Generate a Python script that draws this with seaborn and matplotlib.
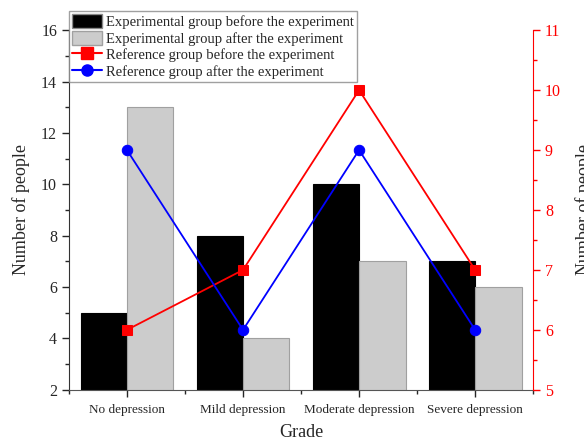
import numpy as np
import pandas as pd
import matplotlib
matplotlib.use("Agg")
import matplotlib.pyplot as plt
from matplotlib.lines import Line2D
from matplotlib.patches import Patch
from matplotlib.ticker import MultipleLocator, FixedLocator
import seaborn as sns

grades = ["No depression", "Mild depression", "Moderate depression", "Severe depression"]
exp_before = [5, 8, 10, 7]
exp_after = [13, 4, 7, 6]
ref_before = [6, 7, 10, 7]
ref_after = [9, 6, 9, 6]

lab_eb = "Experimental group before the experiment"
lab_ea = "Experimental group after the experiment"
lab_rb = "Reference group before the experiment"
lab_ra = "Reference group after the experiment"

sns.set_style("white")
plt.rcParams["font.family"] = ["Liberation Serif", "DejaVu Serif"]

df = pd.DataFrame({
    "Grade": grades * 2,
    "count": exp_before + exp_after,
    "group": [lab_eb] * 4 + [lab_ea] * 4,
})

fig = plt.figure(figsize=(5.84, 4.43), dpi=100)
ax = fig.add_axes([0.118, 0.12, 0.795, 0.812])

sns.barplot(data=df, x="Grade", y="count", hue="group", order=grades,
            hue_order=[lab_eb, lab_ea], palette=["black", "#cccccc"],
            width=0.8, ax=ax, legend=False)
for i, p in enumerate(ax.patches):
    p.set_edgecolor("black" if i < 4 else "#a0a0a0")
    p.set_linewidth(0.8)

ax.set_xlim(-0.5, 3.5)
ax.set_ylim(2, 16)
ax.yaxis.set_major_locator(MultipleLocator(2))
ax.yaxis.set_minor_locator(MultipleLocator(1))
ax.xaxis.set_minor_locator(FixedLocator([-0.5, 0.5, 1.5, 2.5, 3.5]))
ax.tick_params(axis="y", which="major", direction="out", length=5, width=1, labelsize=11.5, left=True)
ax.tick_params(axis="y", which="minor", direction="out", length=3, width=1, left=True)
ax.tick_params(axis="x", which="major", direction="out", length=5, width=1, labelsize=9.5, bottom=True, pad=5)
ax.tick_params(axis="x", which="minor", direction="out", length=3, width=1, bottom=True)
ax.set_xlabel("Grade", fontsize=13, labelpad=6)
ax.set_ylabel("Number of people", fontsize=13, labelpad=8)
ax.spines["top"].set_visible(False)
ax.spines["right"].set_visible(False)
ax.spines["left"].set_color("#333333")
ax.spines["bottom"].set_color("#555555")

ax2 = ax.twinx()
xs = np.arange(len(grades))
sns.lineplot(x=xs, y=ref_before, color="red", marker="s", markersize=7.5,
             markeredgecolor="red", linewidth=1.3, ax=ax2)
sns.lineplot(x=xs, y=ref_after, color="blue", marker="o", markersize=7.5,
             markeredgecolor="blue", linewidth=1.3, ax=ax2)
ax2.set_ylim(5, 11)
ax2.yaxis.set_major_locator(MultipleLocator(1))
ax2.yaxis.set_minor_locator(MultipleLocator(0.5))
ax2.tick_params(axis="y", which="major", direction="out", length=5, width=1,
                colors="red", labelsize=11.5, right=True)
ax2.tick_params(axis="y", which="minor", direction="out", length=3, width=1,
                colors="red", right=True)
ax2.set_ylabel("Number of people", fontsize=13, labelpad=10)
for s in ["top", "left", "bottom"]:
    ax2.spines[s].set_visible(False)
ax2.spines["right"].set_color("red")
ax2.set_xlim(-0.5, 3.5)

handles = [
    Patch(facecolor="black", edgecolor="#888888", label=lab_eb),
    Patch(facecolor="#cccccc", edgecolor="#a0a0a0", label=lab_ea),
    Line2D([], [], color="red", marker="s", markersize=8, label=lab_rb),
    Line2D([], [], color="blue", marker="o", markersize=8, label=lab_ra),
]
leg = fig.legend(handles=handles, loc="upper left", bbox_to_anchor=(0.119, 0.975),
                 fontsize=10.5, frameon=True, fancybox=False, edgecolor="#888888",
                 handlelength=2.0, handleheight=1.1, labelspacing=0.12,
                 handletextpad=0.3, borderpad=0.2, borderaxespad=0)
leg.get_frame().set_linewidth(1)

fig.savefig("out.png", dpi=100)
